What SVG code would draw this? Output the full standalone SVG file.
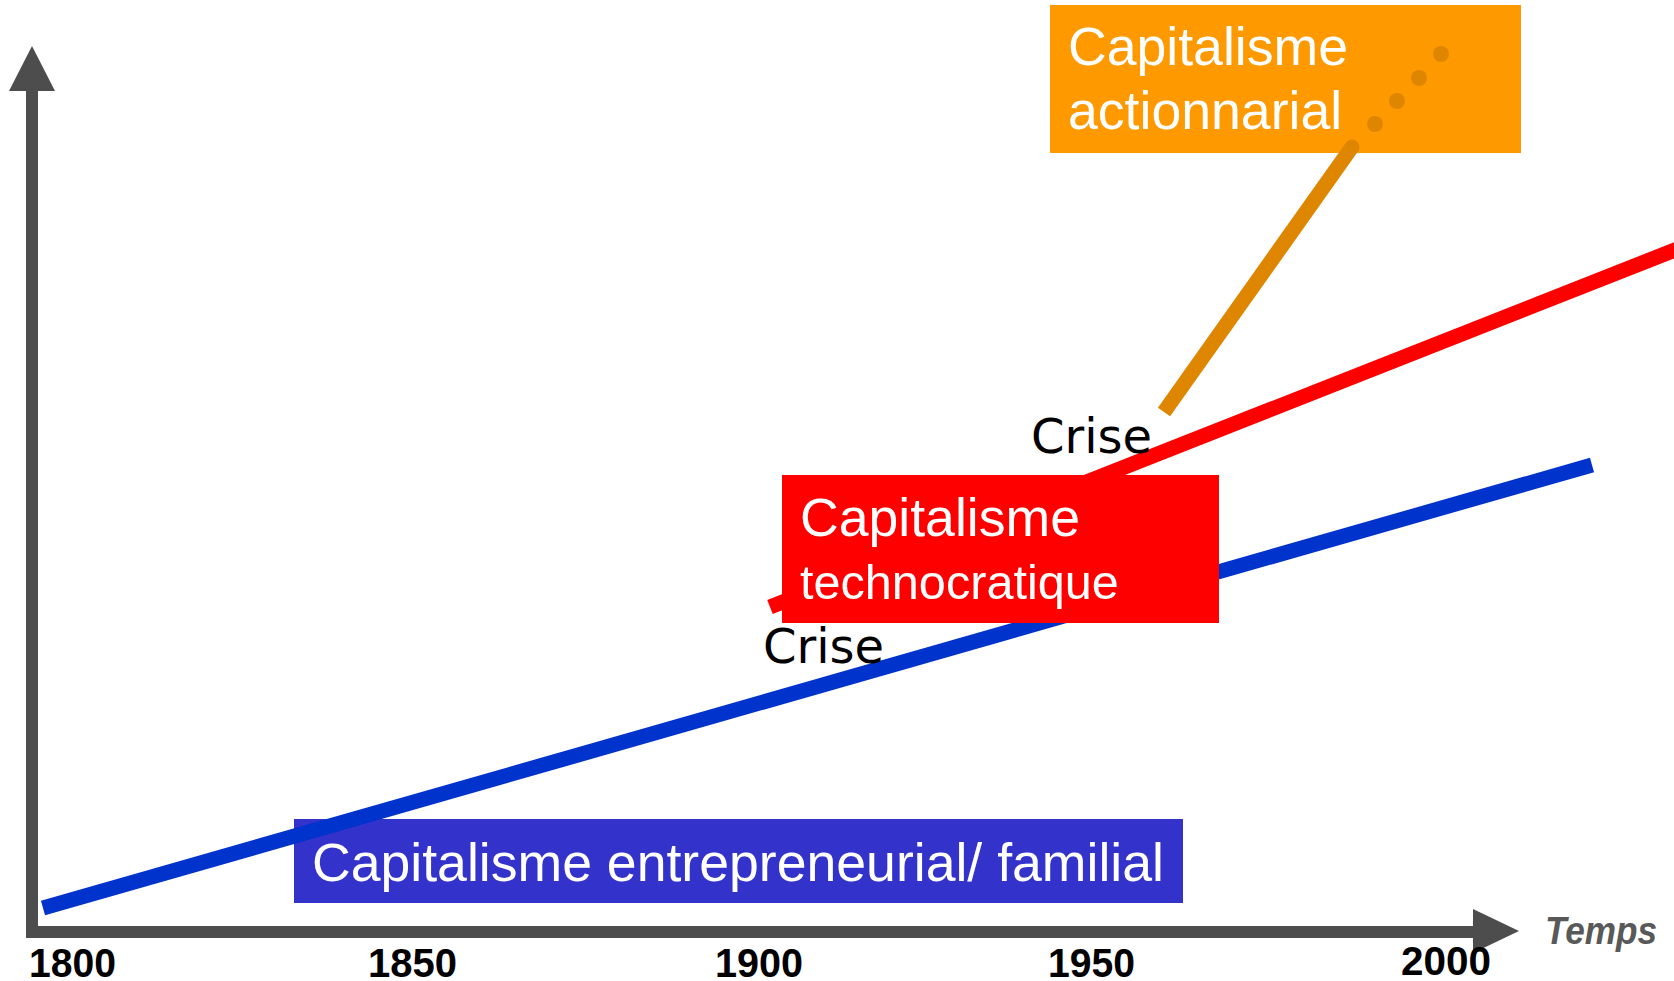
<svg xmlns="http://www.w3.org/2000/svg" width="1674" height="981" viewBox="0 0 1674 981">
<style>
.box-text{font-family:"Liberation Sans",Arial,sans-serif;fill:#ffffff;font-size:53.6px}
.small{font-size:48.6px}
.year{font-family:"Liberation Sans",Arial,sans-serif;font-weight:bold;font-size:40px;fill:#000}
.crise{font-family:"DejaVu Sans",Verdana,sans-serif;font-size:48px;fill:#000}
.axis{fill:#4d4d4d}
.line{fill:none;stroke-width:15;stroke-linecap:butt}
</style>
<rect width="1674" height="981" fill="#ffffff"/>
<g id="axes">
  <rect class="axis" x="26" y="88" width="12" height="850"/>
  <polygon class="axis" points="32,46 9,91 55,91"/>
  <rect class="axis" x="26" y="926" width="1450" height="12"/>
  <polygon class="axis" points="1473,909 1519,931 1473,953"/>
  <text class="year" x="29" y="977" textLength="87" lengthAdjust="spacingAndGlyphs">1800</text>
  <text class="year" x="368" y="977" textLength="89" lengthAdjust="spacingAndGlyphs">1850</text>
  <text class="year" x="715" y="977" textLength="88" lengthAdjust="spacingAndGlyphs">1900</text>
  <text class="year" x="1048" y="977" textLength="87" lengthAdjust="spacingAndGlyphs">1950</text>
  <text class="year" x="1401" y="975" textLength="90" lengthAdjust="spacingAndGlyphs">2000</text>
  <text x="1545" y="944" font-family="Liberation Sans, Arial, sans-serif" font-weight="bold" font-style="italic" font-size="39" fill="#595959" textLength="112" lengthAdjust="spacingAndGlyphs">Temps</text>
</g>
<g id="node-familial">
  <rect x="294" y="819" width="889" height="84" fill="#3333cc"/>
  <text class="box-text" x="312" y="881">Capitalisme entrepreneurial/ familial</text>
</g>
<g id="connectors">
  <line class="line" x1="43" y1="908" x2="1592" y2="465" stroke="#0033cc"/>
  <line class="line" x1="770" y1="607" x2="1690" y2="244" stroke="#ff0000"/>
</g>
<g id="node-technocratique">
  <rect x="782" y="475" width="437" height="148" fill="#ff0000"/>
  <text class="box-text" x="800" y="536">Capitalisme</text>
  <text class="box-text small" x="800" y="599">technocratique</text>
</g>
<g id="node-actionnarial">
  <rect x="1050" y="5" width="471" height="148" fill="#ff9900"/>
  <text class="box-text" x="1068" y="65">Capitalisme</text>
  <text class="box-text" x="1068" y="129">actionnarial</text>
</g>
<g id="connector-actionnarial">
  <line class="line" x1="1164" y1="412" x2="1352" y2="147" stroke="#df8600"/>
  <circle cx="1352" cy="147" r="7.5" fill="#df8600"/>
  <circle cx="1375" cy="124" r="8" fill="#df8600"/>
  <circle cx="1397" cy="101" r="8" fill="#df8600"/>
  <circle cx="1419" cy="78" r="8" fill="#df8600"/>
  <circle cx="1441" cy="54" r="8" fill="#df8600"/>
</g>
<g id="labels-crise">
  <text class="crise" x="1031" y="453">Crise</text>
  <text class="crise" x="763" y="663">Crise</text>
</g>
</svg>
